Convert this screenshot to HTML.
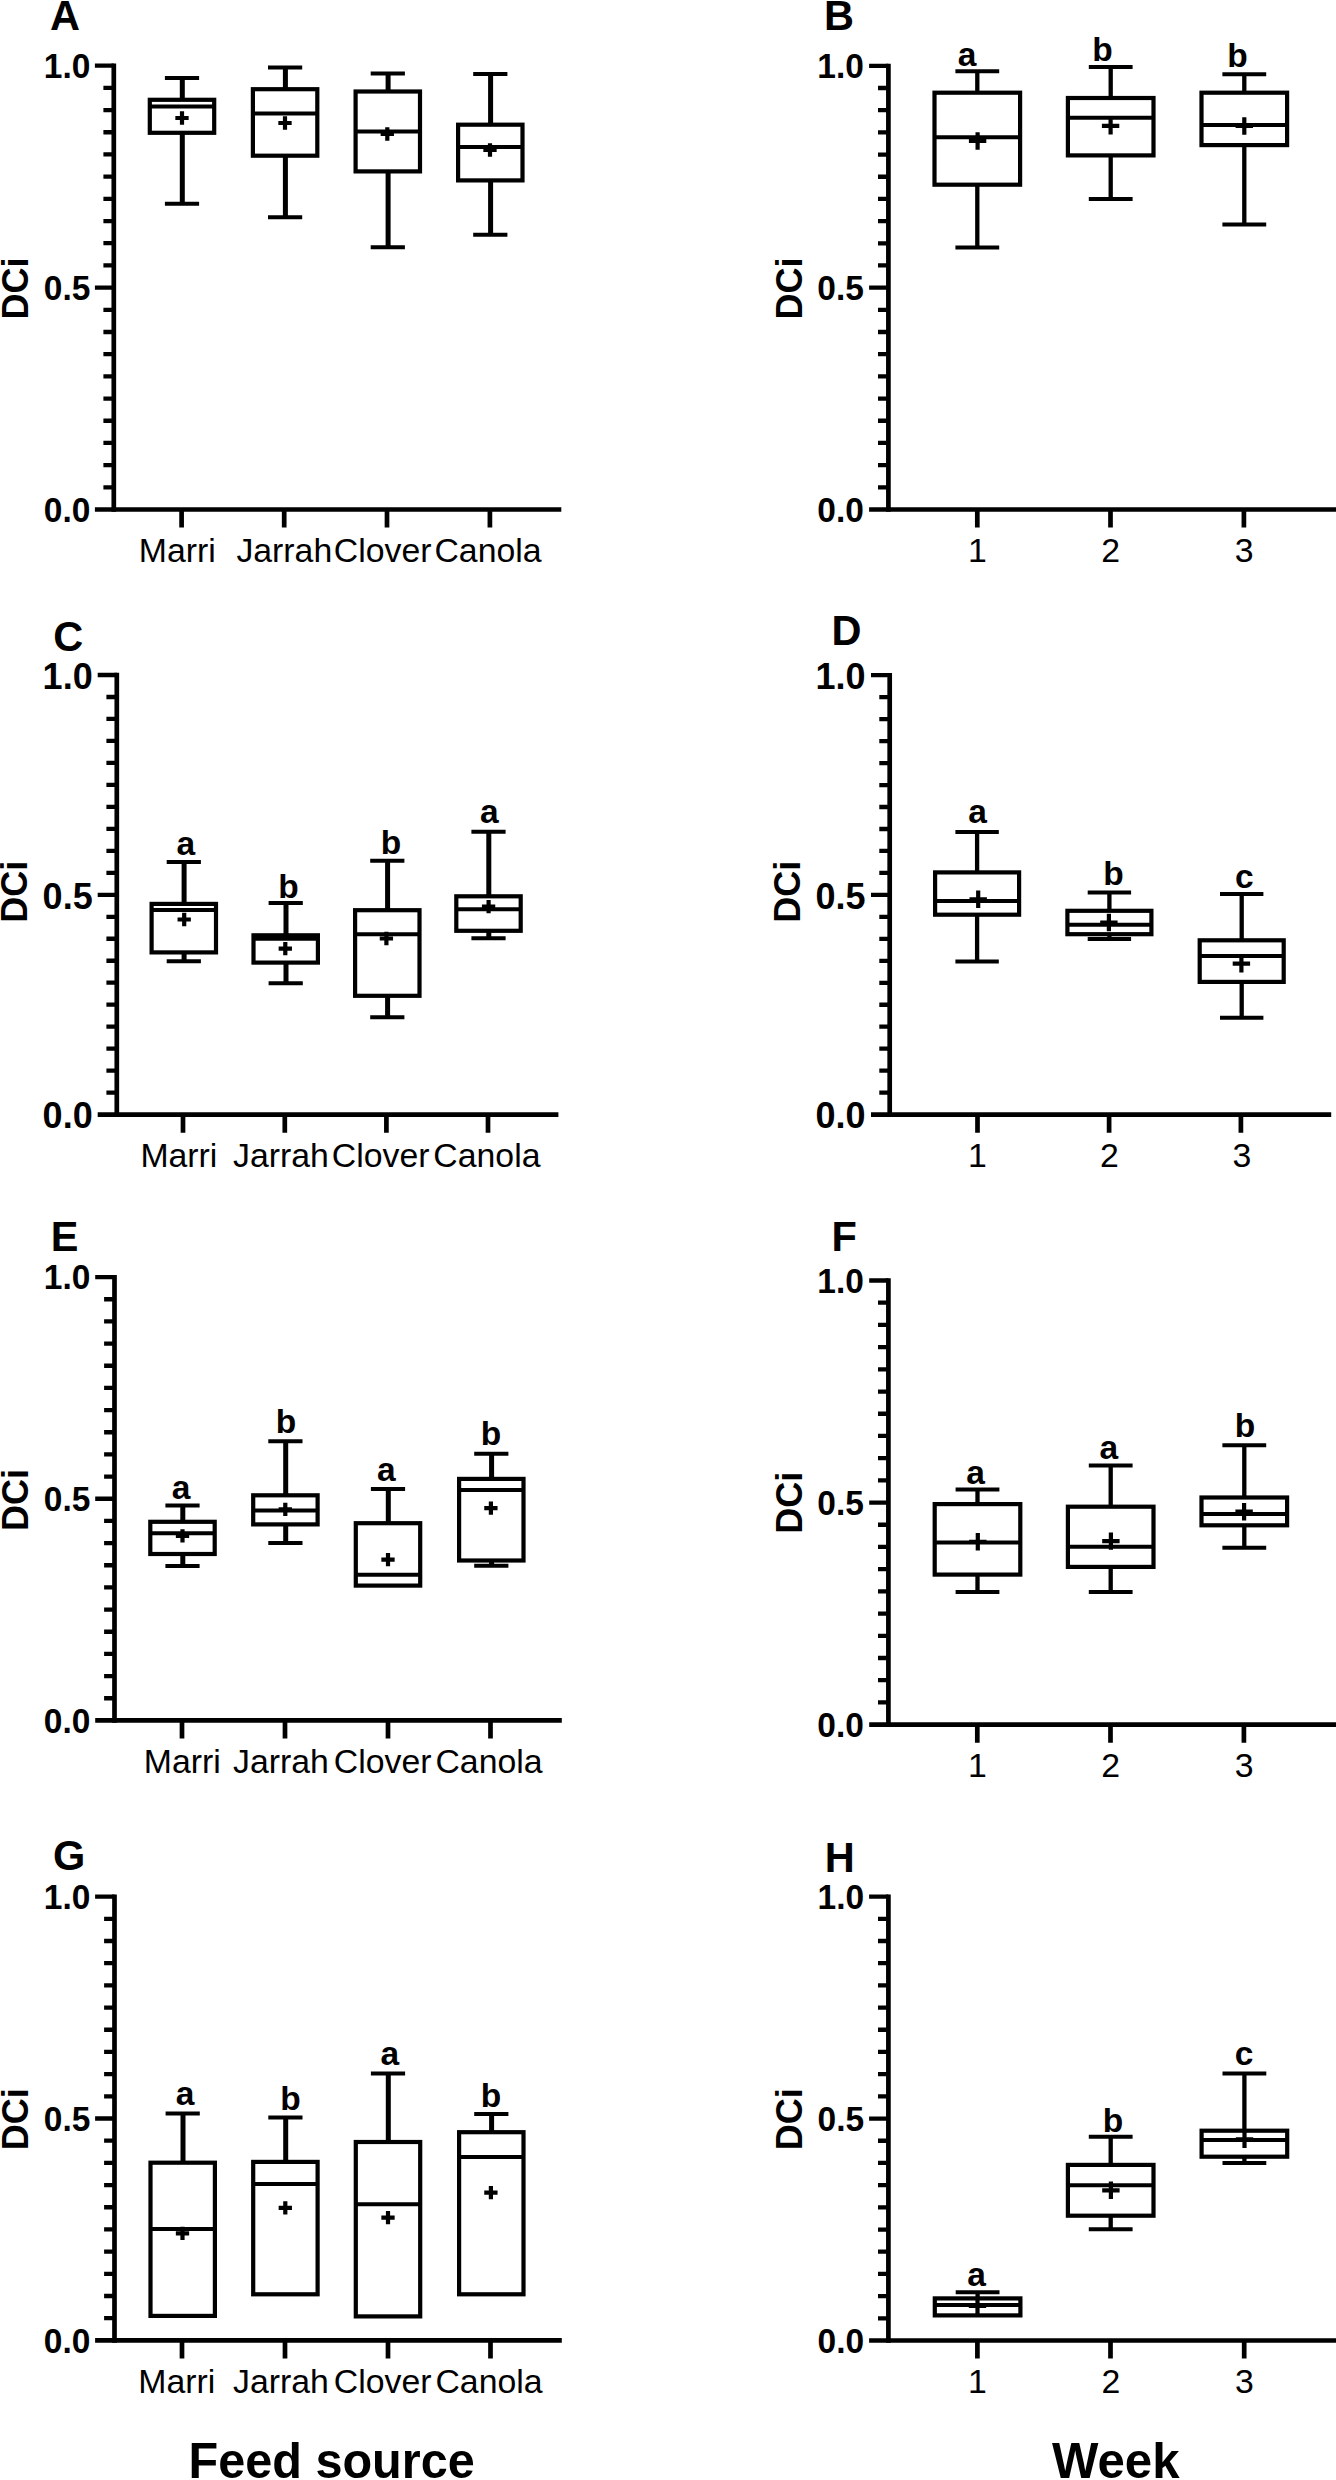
<!DOCTYPE html>
<html lang="en">
<head>
<meta charset="utf-8">
<title>DCi box plots by feed source and week</title>
<style>
html,body{margin:0;padding:0;background:#fff;}
body{width:1336px;height:2480px;overflow:hidden;}
svg{display:block;}
svg text{font-family:"Liberation Sans", sans-serif;fill:#000;stroke:none;}
</style>
</head>
<body>
<svg width="1336" height="2480" viewBox="0 0 1336 2480" fill="none" stroke="#000" stroke-linecap="butt" stroke-linejoin="miter">
<rect x="0" y="0" width="1336" height="2480" fill="#fff" stroke="none"/>
<g id="panel-A">
<text transform="translate(50.1 29.6) scale(1 1.04)" font-size="41.5" font-weight="700">A</text>
<path d="M113.8 63.55V511.85" stroke-width="4.7"/>
<path d="M94.9 509.5H561.3" stroke-width="4.7"/>
<path d="M103.4 487.31H113.8M103.4 465.12H113.8M103.4 442.93H113.8M103.4 420.74H113.8M103.4 398.55H113.8M103.4 376.36H113.8M103.4 354.17H113.8M103.4 331.98H113.8M103.4 309.79H113.8M94.9 287.6H113.8M103.4 265.41H113.8M103.4 243.22H113.8M103.4 221.03H113.8M103.4 198.84H113.8M103.4 176.65H113.8M103.4 154.46H113.8M103.4 132.27H113.8M103.4 110.08H113.8M103.4 87.89H113.8M94.9 65.7H113.8" stroke-width="4.3"/>
<text transform="translate(90.3 521.8) scale(1 1.04)" font-size="33.5" font-weight="700" text-anchor="end">0.0</text>
<text transform="translate(90.3 299.9) scale(1 1.04)" font-size="33.5" font-weight="700" text-anchor="end">0.5</text>
<text transform="translate(90.3 78) scale(1 1.04)" font-size="33.5" font-weight="700" text-anchor="end">1.0</text>
<text transform="translate(27.7 288.4) rotate(-90) scale(1 1.04)" font-size="36" font-weight="700" text-anchor="middle">DCi</text>
<path d="M181.6 509.5V527.6M284.2 509.5V527.6M387 509.5V527.6M489.9 509.5V527.6" stroke-width="4.7"/>
<text transform="translate(177.3 562.3)" font-size="33.8" text-anchor="middle">Marri</text>
<text transform="translate(284.3 562.3)" font-size="33.8" text-anchor="middle">Jarrah</text>
<text transform="translate(382.6 562.3)" font-size="33.8" text-anchor="middle">Clover</text>
<text transform="translate(488 562.3)" font-size="33.8" text-anchor="middle">Canola</text>
<path d="M182.3 78V99.8M182.3 132.8V203.7" stroke-width="5.0"/>
<path d="M164.9 78H199.1M164.9 203.7H199.1" stroke-width="4.0"/>
<rect x="149.8" y="99.8" width="64.4" height="33" fill="#fff" stroke-width="4.2"/>
<path d="M149.8 106.6H214.2" stroke-width="4.0"/>
<path d="M175.35 118H188.65M182 111.35V124.65" stroke-width="4.2"/>
<path d="M285.4 67.4V89.2M285.4 155.7V217.2" stroke-width="5.0"/>
<path d="M268 67.4H302.2M268 217.2H302.2" stroke-width="4.0"/>
<rect x="252.9" y="89.2" width="64.4" height="66.5" fill="#fff" stroke-width="4.2"/>
<path d="M252.9 113.4H317.3" stroke-width="4.0"/>
<path d="M278.35 123H291.65M285 116.35V129.65" stroke-width="4.2"/>
<path d="M388.1 73.4V91.5M388.1 171.4V247.2" stroke-width="5.0"/>
<path d="M370.7 73.4H404.9M370.7 247.2H404.9" stroke-width="4.0"/>
<rect x="355.6" y="91.5" width="64.4" height="79.9" fill="#fff" stroke-width="4.2"/>
<path d="M355.6 131.6H420" stroke-width="4.0"/>
<path d="M380.65 134H393.95M387.3 127.35V140.65" stroke-width="4.2"/>
<path d="M490.6 74.1V124.7M490.6 180.4V234.7" stroke-width="5.0"/>
<path d="M473.2 74.1H507.4M473.2 234.7H507.4" stroke-width="4.0"/>
<rect x="458.1" y="124.7" width="64.4" height="55.7" fill="#fff" stroke-width="4.2"/>
<path d="M458.1 147.1H522.5" stroke-width="4.0"/>
<path d="M483.35 150H496.65M490 143.35V156.65" stroke-width="4.2"/>
</g>
<g id="panel-B">
<text transform="translate(823.9 29.6) scale(1 1.04)" font-size="41.5" font-weight="700">B</text>
<path d="M888.4 63.65V511.85" stroke-width="4.7"/>
<path d="M869.1 509.5H1340" stroke-width="4.7"/>
<path d="M878 487.31H888.4M878 465.13H888.4M878 442.94H888.4M878 420.76H888.4M878 398.57H888.4M878 376.39H888.4M878 354.2H888.4M878 332.02H888.4M878 309.84H888.4M869.1 287.65H888.4M878 265.47H888.4M878 243.28H888.4M878 221.1H888.4M878 198.91H888.4M878 176.73H888.4M878 154.54H888.4M878 132.36H888.4M878 110.17H888.4M878 87.99H888.4M869.1 65.8H888.4" stroke-width="4.3"/>
<text transform="translate(863.8 521.8) scale(1 1.04)" font-size="33.5" font-weight="700" text-anchor="end">0.0</text>
<text transform="translate(863.8 299.95) scale(1 1.04)" font-size="33.5" font-weight="700" text-anchor="end">0.5</text>
<text transform="translate(863.8 78.1) scale(1 1.04)" font-size="33.5" font-weight="700" text-anchor="end">1.0</text>
<text transform="translate(801.7 288.45) rotate(-90) scale(1 1.04)" font-size="36" font-weight="700" text-anchor="middle">DCi</text>
<path d="M977.3 509.5V527.6M1110.5 509.5V527.6M1243.9 509.5V527.6" stroke-width="4.7"/>
<text transform="translate(977.3 561.9)" font-size="33.8" text-anchor="middle">1</text>
<text transform="translate(1110.7 561.9)" font-size="33.8" text-anchor="middle">2</text>
<text transform="translate(1244.1 561.9)" font-size="33.8" text-anchor="middle">3</text>
<path d="M977.3 71.3V92.7M977.3 184.7V247.4" stroke-width="4.3"/>
<path d="M955.4 71.3H999.2M955.4 247.4H999.2" stroke-width="4.0"/>
<rect x="934.5" y="92.7" width="85.6" height="92" fill="#fff" stroke-width="4.2"/>
<path d="M934.5 137.3H1020.1" stroke-width="4.0"/>
<path d="M968.9 141H986.3M977.6 132.3V149.7" stroke-width="4.2"/>
<text transform="translate(967 66)" font-size="33.5" font-weight="700" text-anchor="middle">a</text>
<path d="M1110.7 67.1V98M1110.7 155.4V199" stroke-width="4.3"/>
<path d="M1088.8 67.1H1132.6M1088.8 199H1132.6" stroke-width="4.0"/>
<rect x="1067.9" y="98" width="85.6" height="57.4" fill="#fff" stroke-width="4.2"/>
<path d="M1067.9 117.8H1153.5" stroke-width="4.0"/>
<path d="M1101.9 125.8H1119.3M1110.6 117.1V134.5" stroke-width="4.2"/>
<text transform="translate(1102.6 61)" font-size="33.5" font-weight="700" text-anchor="middle">b</text>
<path d="M1244.3 74.3V92.7M1244.3 145.1V224.5" stroke-width="4.3"/>
<path d="M1222.4 74.3H1266.2M1222.4 224.5H1266.2" stroke-width="4.0"/>
<rect x="1201.5" y="92.7" width="85.6" height="52.4" fill="#fff" stroke-width="4.2"/>
<path d="M1201.5 124.9H1287.1" stroke-width="4.0"/>
<path d="M1235.6 126H1253M1244.3 117.3V134.7" stroke-width="4.2"/>
<text transform="translate(1237.6 66.9)" font-size="33.5" font-weight="700" text-anchor="middle">b</text>
</g>
<g id="panel-C">
<text transform="translate(53.2 650.7) scale(1 1.04)" font-size="41.5" font-weight="700">C</text>
<path d="M116.8 672.85V1116.95" stroke-width="4.7"/>
<path d="M97.7 1114.6H558.4" stroke-width="4.7"/>
<path d="M106.4 1092.62H116.8M106.4 1070.64H116.8M106.4 1048.66H116.8M106.4 1026.68H116.8M106.4 1004.7H116.8M106.4 982.72H116.8M106.4 960.74H116.8M106.4 938.76H116.8M106.4 916.78H116.8M97.7 894.8H116.8M106.4 872.82H116.8M106.4 850.84H116.8M106.4 828.86H116.8M106.4 806.88H116.8M106.4 784.9H116.8M106.4 762.92H116.8M106.4 740.94H116.8M106.4 718.96H116.8M106.4 696.98H116.8M97.7 675H116.8" stroke-width="4.3"/>
<text transform="translate(92.65 1128.42) scale(1 1.04)" font-size="36" font-weight="700" text-anchor="end">0.0</text>
<text transform="translate(92.65 908.62) scale(1 1.04)" font-size="36" font-weight="700" text-anchor="end">0.5</text>
<text transform="translate(92.65 688.82) scale(1 1.04)" font-size="36" font-weight="700" text-anchor="end">1.0</text>
<text transform="translate(27.3 891.8) rotate(-90) scale(1 1.04)" font-size="36" font-weight="700" text-anchor="middle">DCi</text>
<path d="M183 1114.6V1132.7M284.8 1114.6V1132.7M386.4 1114.6V1132.7M488 1114.6V1132.7" stroke-width="4.7"/>
<text transform="translate(178.9 1166.6)" font-size="33.8" text-anchor="middle">Marri</text>
<text transform="translate(281 1166.6)" font-size="33.8" text-anchor="middle">Jarrah</text>
<text transform="translate(380.6 1166.6)" font-size="33.8" text-anchor="middle">Clover</text>
<text transform="translate(486.9 1166.6)" font-size="33.8" text-anchor="middle">Canola</text>
<path d="M184.1 862V903.9M184.1 952.4V961.2" stroke-width="5.0"/>
<path d="M166.7 862H200.9M166.7 961.2H200.9" stroke-width="4.0"/>
<rect x="151.6" y="903.9" width="64.4" height="48.5" fill="#fff" stroke-width="4.2"/>
<path d="M151.6 909.9H216" stroke-width="4.0"/>
<path d="M177.55 919.5H190.85M184.2 912.85V926.15" stroke-width="4.2"/>
<text transform="translate(185.8 854.8)" font-size="33.5" font-weight="700" text-anchor="middle">a</text>
<path d="M286 903.1V935.3M286 962.6V983.2" stroke-width="5.0"/>
<path d="M268.6 903.1H302.8M268.6 983.2H302.8" stroke-width="4.0"/>
<rect x="253.5" y="935.3" width="64.4" height="27.3" fill="#fff" stroke-width="4.2"/>
<path d="M253.5 938.7H317.9" stroke-width="4.0"/>
<path d="M278.65 948.6H291.95M285.3 941.95V955.25" stroke-width="4.2"/>
<text transform="translate(288.6 898.2)" font-size="33.5" font-weight="700" text-anchor="middle">b</text>
<path d="M387.6 860.8V910.2M387.6 995.8V1017.2" stroke-width="5.0"/>
<path d="M370.2 860.8H404.4M370.2 1017.2H404.4" stroke-width="4.0"/>
<rect x="355.1" y="910.2" width="64.4" height="85.6" fill="#fff" stroke-width="4.2"/>
<path d="M355.1 934.3H419.5" stroke-width="4.0"/>
<path d="M379.75 938.5H393.05M386.4 931.85V945.15" stroke-width="4.2"/>
<text transform="translate(391 854.2)" font-size="33.5" font-weight="700" text-anchor="middle">b</text>
<path d="M488.8 831.7V896.3M488.8 930.8V938.3" stroke-width="5.0"/>
<path d="M471.4 831.7H505.6M471.4 938.3H505.6" stroke-width="4.0"/>
<rect x="456.3" y="896.3" width="64.4" height="34.5" fill="#fff" stroke-width="4.2"/>
<path d="M456.3 909.3H520.7" stroke-width="4.0"/>
<path d="M481.95 906.7H495.25M488.6 900.05V913.35" stroke-width="4.2"/>
<text transform="translate(489.4 822.8)" font-size="33.5" font-weight="700" text-anchor="middle">a</text>
</g>
<g id="panel-D">
<text transform="translate(831.6 645.3) scale(1 1.04)" font-size="41.5" font-weight="700">D</text>
<path d="M889.7 673.05V1116.95" stroke-width="4.7"/>
<path d="M871 1114.6H1331.2" stroke-width="4.7"/>
<path d="M879.3 1092.63H889.7M879.3 1070.66H889.7M879.3 1048.69H889.7M879.3 1026.72H889.7M879.3 1004.75H889.7M879.3 982.78H889.7M879.3 960.81H889.7M879.3 938.84H889.7M879.3 916.87H889.7M871 894.9H889.7M879.3 872.93H889.7M879.3 850.96H889.7M879.3 828.99H889.7M879.3 807.02H889.7M879.3 785.05H889.7M879.3 763.08H889.7M879.3 741.11H889.7M879.3 719.14H889.7M879.3 697.17H889.7M871 675.2H889.7" stroke-width="4.3"/>
<text transform="translate(865.45 1128.42) scale(1 1.04)" font-size="36" font-weight="700" text-anchor="end">0.0</text>
<text transform="translate(865.45 908.72) scale(1 1.04)" font-size="36" font-weight="700" text-anchor="end">0.5</text>
<text transform="translate(865.45 689.02) scale(1 1.04)" font-size="36" font-weight="700" text-anchor="end">1.0</text>
<text transform="translate(800.3 891.8) rotate(-90) scale(1 1.04)" font-size="36" font-weight="700" text-anchor="middle">DCi</text>
<path d="M977.5 1114.6V1132.7M1109.1 1114.6V1132.7M1240.9 1114.6V1132.7" stroke-width="4.7"/>
<text transform="translate(977.5 1166.9)" font-size="33.8" text-anchor="middle">1</text>
<text transform="translate(1109.4 1166.9)" font-size="33.8" text-anchor="middle">2</text>
<text transform="translate(1241.8 1166.9)" font-size="33.8" text-anchor="middle">3</text>
<path d="M977.1 832.1V872.4M977.1 914.7V961.4" stroke-width="4.3"/>
<path d="M955.4 832.1H998.8M955.4 961.4H998.8" stroke-width="4.0"/>
<rect x="935.1" y="872.4" width="84" height="42.3" fill="#fff" stroke-width="4.2"/>
<path d="M935.1 901.1H1019.1" stroke-width="4.0"/>
<path d="M969.5 899.3H986.9M978.2 890.6V908" stroke-width="4.2"/>
<text transform="translate(977.6 823.1)" font-size="33.5" font-weight="700" text-anchor="middle">a</text>
<path d="M1109.4 892.6V910.8M1109.4 934.2V939" stroke-width="4.3"/>
<path d="M1087.7 892.6H1131.1M1087.7 939H1131.1" stroke-width="4.0"/>
<rect x="1067.4" y="910.8" width="84" height="23.4" fill="#fff" stroke-width="4.2"/>
<path d="M1067.4 924.8H1151.4" stroke-width="4.0"/>
<path d="M1100.2 922.5H1117.6M1108.9 913.8V931.2" stroke-width="4.2"/>
<text transform="translate(1113.6 884.7)" font-size="33.5" font-weight="700" text-anchor="middle">b</text>
<path d="M1241.7 893.9V940.3M1241.7 981.9V1017.7" stroke-width="4.3"/>
<path d="M1220 893.9H1263.4M1220 1017.7H1263.4" stroke-width="4.0"/>
<rect x="1199.7" y="940.3" width="84" height="41.6" fill="#fff" stroke-width="4.2"/>
<path d="M1199.7 956H1283.7" stroke-width="4.0"/>
<path d="M1232.7 963.7H1250.1M1241.4 955V972.4" stroke-width="4.2"/>
<text transform="translate(1244.4 887.7)" font-size="33.5" font-weight="700" text-anchor="middle">c</text>
</g>
<g id="panel-E">
<text transform="translate(50.7 1250.9) scale(1 1.04)" font-size="41.5" font-weight="700">E</text>
<path d="M114.5 1274.95V1722.75" stroke-width="4.7"/>
<path d="M95.2 1720.4H561.8" stroke-width="4.7"/>
<path d="M104.1 1698.24H114.5M104.1 1676.07H114.5M104.1 1653.9H114.5M104.1 1631.74H114.5M104.1 1609.58H114.5M104.1 1587.41H114.5M104.1 1565.25H114.5M104.1 1543.08H114.5M104.1 1520.91H114.5M95.2 1498.75H114.5M104.1 1476.59H114.5M104.1 1454.42H114.5M104.1 1432.26H114.5M104.1 1410.09H114.5M104.1 1387.92H114.5M104.1 1365.76H114.5M104.1 1343.59H114.5M104.1 1321.43H114.5M104.1 1299.26H114.5M95.2 1277.1H114.5" stroke-width="4.3"/>
<text transform="translate(90.4 1732.7) scale(1 1.04)" font-size="33.5" font-weight="700" text-anchor="end">0.0</text>
<text transform="translate(90.4 1511.05) scale(1 1.04)" font-size="33.5" font-weight="700" text-anchor="end">0.5</text>
<text transform="translate(90.4 1289.4) scale(1 1.04)" font-size="33.5" font-weight="700" text-anchor="end">1.0</text>
<text transform="translate(27.7 1500.05) rotate(-90) scale(1 1.04)" font-size="36" font-weight="700" text-anchor="middle">DCi</text>
<path d="M182 1720.4V1738.5M285 1720.4V1738.5M388 1720.4V1738.5M490.5 1720.4V1738.5" stroke-width="4.7"/>
<text transform="translate(182.3 1773)" font-size="33.8" text-anchor="middle">Marri</text>
<text transform="translate(281 1773)" font-size="33.8" text-anchor="middle">Jarrah</text>
<text transform="translate(382.6 1773)" font-size="33.8" text-anchor="middle">Clover</text>
<text transform="translate(489 1773)" font-size="33.8" text-anchor="middle">Canola</text>
<path d="M182.8 1505.4V1521.8M182.8 1554V1566" stroke-width="5.0"/>
<path d="M165.4 1505.4H199.6M165.4 1566H199.6" stroke-width="4.0"/>
<rect x="150.3" y="1521.8" width="64.4" height="32.2" fill="#fff" stroke-width="4.2"/>
<path d="M150.3 1533.2H214.7" stroke-width="4.0"/>
<path d="M175.85 1535.9H189.15M182.5 1529.25V1542.55" stroke-width="4.2"/>
<text transform="translate(181 1498.5)" font-size="33.5" font-weight="700" text-anchor="middle">a</text>
<path d="M285.7 1441.2V1495.3M285.7 1524.4V1543.1" stroke-width="5.0"/>
<path d="M268.3 1441.2H302.5M268.3 1543.1H302.5" stroke-width="4.0"/>
<rect x="253.2" y="1495.3" width="64.4" height="29.1" fill="#fff" stroke-width="4.2"/>
<path d="M253.2 1510.5H317.6" stroke-width="4.0"/>
<path d="M278.65 1509.4H291.95M285.3 1502.75V1516.05" stroke-width="4.2"/>
<text transform="translate(286 1432.6)" font-size="33.5" font-weight="700" text-anchor="middle">b</text>
<path d="M388.3 1489.1V1523.2" stroke-width="5.0"/>
<path d="M370.9 1489.1H405.1" stroke-width="4.0"/>
<rect x="355.8" y="1523.2" width="64.4" height="62.4" fill="#fff" stroke-width="4.2"/>
<path d="M355.8 1574.8H420.2" stroke-width="4.0"/>
<path d="M381.35 1559.6H394.65M388 1552.95V1566.25" stroke-width="4.2"/>
<text transform="translate(386.2 1481.2)" font-size="33.5" font-weight="700" text-anchor="middle">a</text>
<path d="M491.6 1453.7V1478.9M491.6 1560.5V1565.7" stroke-width="5.0"/>
<path d="M474.2 1453.7H508.4M474.2 1565.7H508.4" stroke-width="4.0"/>
<rect x="459.1" y="1478.9" width="64.4" height="81.6" fill="#fff" stroke-width="4.2"/>
<path d="M459.1 1490H523.5" stroke-width="4.0"/>
<path d="M484.25 1508.2H497.55M490.9 1501.55V1514.85" stroke-width="4.2"/>
<text transform="translate(490.9 1445.1)" font-size="33.5" font-weight="700" text-anchor="middle">b</text>
</g>
<g id="panel-F">
<text transform="translate(831.6 1250.9) scale(1 1.04)" font-size="41.5" font-weight="700">F</text>
<path d="M888.4 1278.35V1726.95" stroke-width="4.7"/>
<path d="M869.2 1724.6H1340" stroke-width="4.7"/>
<path d="M878 1702.39H888.4M878 1680.19H888.4M878 1657.98H888.4M878 1635.78H888.4M878 1613.57H888.4M878 1591.37H888.4M878 1569.16H888.4M878 1546.96H888.4M878 1524.75H888.4M869.2 1502.55H888.4M878 1480.35H888.4M878 1458.14H888.4M878 1435.93H888.4M878 1413.73H888.4M878 1391.53H888.4M878 1369.32H888.4M878 1347.12H888.4M878 1324.91H888.4M878 1302.7H888.4M869.2 1280.5H888.4" stroke-width="4.3"/>
<text transform="translate(863.9 1736.9) scale(1 1.04)" font-size="33.5" font-weight="700" text-anchor="end">0.0</text>
<text transform="translate(863.9 1514.85) scale(1 1.04)" font-size="33.5" font-weight="700" text-anchor="end">0.5</text>
<text transform="translate(863.9 1292.8) scale(1 1.04)" font-size="33.5" font-weight="700" text-anchor="end">1.0</text>
<text transform="translate(801.7 1502.65) rotate(-90) scale(1 1.04)" font-size="36" font-weight="700" text-anchor="middle">DCi</text>
<path d="M977.3 1724.6V1742.7M1110.5 1724.6V1742.7M1243.9 1724.6V1742.7" stroke-width="4.7"/>
<text transform="translate(977.3 1777)" font-size="33.8" text-anchor="middle">1</text>
<text transform="translate(1110.7 1777)" font-size="33.8" text-anchor="middle">2</text>
<text transform="translate(1244.1 1777)" font-size="33.8" text-anchor="middle">3</text>
<path d="M977.5 1489.4V1504.1M977.5 1574.6V1592" stroke-width="4.3"/>
<path d="M955.6 1489.4H999.4M955.6 1592H999.4" stroke-width="4.0"/>
<rect x="934.7" y="1504.1" width="85.6" height="70.5" fill="#fff" stroke-width="4.2"/>
<path d="M934.7 1542.6H1020.3" stroke-width="4.0"/>
<path d="M969.1 1541.8H986.5M977.8 1533.1V1550.5" stroke-width="4.2"/>
<text transform="translate(975.5 1483.8)" font-size="33.5" font-weight="700" text-anchor="middle">a</text>
<path d="M1110.7 1465.6V1506.7M1110.7 1566.9V1592" stroke-width="4.3"/>
<path d="M1088.8 1465.6H1132.6M1088.8 1592H1132.6" stroke-width="4.0"/>
<rect x="1067.9" y="1506.7" width="85.6" height="60.2" fill="#fff" stroke-width="4.2"/>
<path d="M1067.9 1546.8H1153.5" stroke-width="4.0"/>
<path d="M1102.2 1541.1H1119.6M1110.9 1532.4V1549.8" stroke-width="4.2"/>
<text transform="translate(1108.9 1458.8)" font-size="33.5" font-weight="700" text-anchor="middle">a</text>
<path d="M1244.3 1445.3V1497.5M1244.3 1525.3V1547.7" stroke-width="4.3"/>
<path d="M1222.4 1445.3H1266.2M1222.4 1547.7H1266.2" stroke-width="4.0"/>
<rect x="1201.5" y="1497.5" width="85.6" height="27.8" fill="#fff" stroke-width="4.2"/>
<path d="M1201.5 1514.1H1287.1" stroke-width="4.0"/>
<path d="M1235.4 1511.7H1252.8M1244.1 1503V1520.4" stroke-width="4.2"/>
<text transform="translate(1245 1436.9)" font-size="33.5" font-weight="700" text-anchor="middle">b</text>
</g>
<g id="panel-G">
<text transform="translate(52.9 1869.8) scale(1 1.04)" font-size="41.5" font-weight="700">G</text>
<path d="M114.5 1894.45V2342.75" stroke-width="4.7"/>
<path d="M95.1 2340.4H561.8" stroke-width="4.7"/>
<path d="M104.1 2318.21H114.5M104.1 2296.02H114.5M104.1 2273.83H114.5M104.1 2251.64H114.5M104.1 2229.45H114.5M104.1 2207.26H114.5M104.1 2185.07H114.5M104.1 2162.88H114.5M104.1 2140.69H114.5M95.1 2118.5H114.5M104.1 2096.31H114.5M104.1 2074.12H114.5M104.1 2051.93H114.5M104.1 2029.74H114.5M104.1 2007.55H114.5M104.1 1985.36H114.5M104.1 1963.17H114.5M104.1 1940.98H114.5M104.1 1918.79H114.5M95.1 1896.6H114.5" stroke-width="4.3"/>
<text transform="translate(90.4 2352.7) scale(1 1.04)" font-size="33.5" font-weight="700" text-anchor="end">0.0</text>
<text transform="translate(90.4 2130.8) scale(1 1.04)" font-size="33.5" font-weight="700" text-anchor="end">0.5</text>
<text transform="translate(90.4 1908.9) scale(1 1.04)" font-size="33.5" font-weight="700" text-anchor="end">1.0</text>
<text transform="translate(27.7 2119.3) rotate(-90) scale(1 1.04)" font-size="36" font-weight="700" text-anchor="middle">DCi</text>
<path d="M182 2340.4V2358.5M285 2340.4V2358.5M388 2340.4V2358.5M490.5 2340.4V2358.5" stroke-width="4.7"/>
<text transform="translate(176.8 2392.8)" font-size="33.8" text-anchor="middle">Marri</text>
<text transform="translate(281 2392.8)" font-size="33.8" text-anchor="middle">Jarrah</text>
<text transform="translate(382.6 2392.8)" font-size="33.8" text-anchor="middle">Clover</text>
<text transform="translate(489 2392.8)" font-size="33.8" text-anchor="middle">Canola</text>
<path d="M183 2113.5V2162.7" stroke-width="5.0"/>
<path d="M165.6 2113.5H199.8" stroke-width="4.0"/>
<rect x="150.5" y="2162.7" width="64.4" height="153.2" fill="#fff" stroke-width="4.2"/>
<path d="M150.5 2228.9H214.9" stroke-width="4.0"/>
<path d="M175.85 2233.4H189.15M182.5 2226.75V2240.05" stroke-width="4.2"/>
<text transform="translate(185 2104.5)" font-size="33.5" font-weight="700" text-anchor="middle">a</text>
<path d="M285.7 2117.4V2161.9" stroke-width="5.0"/>
<path d="M268.3 2117.4H302.5" stroke-width="4.0"/>
<rect x="253.2" y="2161.9" width="64.4" height="132.4" fill="#fff" stroke-width="4.2"/>
<path d="M253.2 2184H317.6" stroke-width="4.0"/>
<path d="M278.65 2207.8H291.95M285.3 2201.15V2214.45" stroke-width="4.2"/>
<text transform="translate(290.6 2109.5)" font-size="33.5" font-weight="700" text-anchor="middle">b</text>
<path d="M388.3 2073.5V2142" stroke-width="5.0"/>
<path d="M370.9 2073.5H405.1" stroke-width="4.0"/>
<rect x="355.8" y="2142" width="64.4" height="174.4" fill="#fff" stroke-width="4.2"/>
<path d="M355.8 2204.2H420.2" stroke-width="4.0"/>
<path d="M381.35 2217.7H394.65M388 2211.05V2224.35" stroke-width="4.2"/>
<text transform="translate(389.8 2064.7)" font-size="33.5" font-weight="700" text-anchor="middle">a</text>
<path d="M491.6 2114.1V2132.2" stroke-width="5.0"/>
<path d="M474.2 2114.1H508.4" stroke-width="4.0"/>
<rect x="459.1" y="2132.2" width="64.4" height="162.1" fill="#fff" stroke-width="4.2"/>
<path d="M459.1 2157H523.5" stroke-width="4.0"/>
<path d="M484.25 2192.6H497.55M490.9 2185.95V2199.25" stroke-width="4.2"/>
<text transform="translate(490.9 2107.2)" font-size="33.5" font-weight="700" text-anchor="middle">b</text>
</g>
<g id="panel-H">
<text transform="translate(824.8 1872.1) scale(1 1.04)" font-size="41.5" font-weight="700">H</text>
<path d="M888.4 1894.45V2342.85" stroke-width="4.7"/>
<path d="M869.1 2340.5H1340" stroke-width="4.7"/>
<path d="M878 2318.3H888.4M878 2296.11H888.4M878 2273.91H888.4M878 2251.72H888.4M878 2229.53H888.4M878 2207.33H888.4M878 2185.13H888.4M878 2162.94H888.4M878 2140.74H888.4M869.1 2118.55H888.4M878 2096.36H888.4M878 2074.16H888.4M878 2051.97H888.4M878 2029.77H888.4M878 2007.57H888.4M878 1985.38H888.4M878 1963.18H888.4M878 1940.99H888.4M878 1918.79H888.4M869.1 1896.6H888.4" stroke-width="4.3"/>
<text transform="translate(864.1 2352.8) scale(1 1.04)" font-size="33.5" font-weight="700" text-anchor="end">0.0</text>
<text transform="translate(864.1 2130.85) scale(1 1.04)" font-size="33.5" font-weight="700" text-anchor="end">0.5</text>
<text transform="translate(864.1 1908.9) scale(1 1.04)" font-size="33.5" font-weight="700" text-anchor="end">1.0</text>
<text transform="translate(801.7 2119.35) rotate(-90) scale(1 1.04)" font-size="36" font-weight="700" text-anchor="middle">DCi</text>
<path d="M977.4 2340.5V2358.6M1110.5 2340.5V2358.6M1244.2 2340.5V2358.6" stroke-width="4.7"/>
<text transform="translate(977.3 2393.1)" font-size="33.8" text-anchor="middle">1</text>
<text transform="translate(1110.9 2393.1)" font-size="33.8" text-anchor="middle">2</text>
<text transform="translate(1244.3 2393.1)" font-size="33.8" text-anchor="middle">3</text>
<path d="M977.6 2292.2V2298.4" stroke-width="4.3"/>
<path d="M955.7 2292.2H999.5" stroke-width="4.0"/>
<rect x="934.8" y="2298.4" width="85.6" height="17" fill="#fff" stroke-width="4.2"/>
<path d="M934.8 2305.1H1020.4" stroke-width="4.0"/>
<path d="M968.8 2306H986.2M977.5 2297.3V2314.7" stroke-width="4.2"/>
<text transform="translate(976.6 2285.5)" font-size="33.5" font-weight="700" text-anchor="middle">a</text>
<path d="M1110.7 2136.7V2164.9M1110.7 2215.7V2229.3" stroke-width="4.3"/>
<path d="M1088.8 2136.7H1132.6M1088.8 2229.3H1132.6" stroke-width="4.0"/>
<rect x="1067.9" y="2164.9" width="85.6" height="50.8" fill="#fff" stroke-width="4.2"/>
<path d="M1067.9 2185.3H1153.5" stroke-width="4.0"/>
<path d="M1102.2 2190.3H1119.6M1110.9 2181.6V2199" stroke-width="4.2"/>
<text transform="translate(1113 2131.5)" font-size="33.5" font-weight="700" text-anchor="middle">b</text>
<path d="M1244.4 2073.5V2130.7M1244.4 2156.7V2163.1" stroke-width="4.3"/>
<path d="M1222.5 2073.5H1266.3M1222.5 2163.1H1266.3" stroke-width="4.0"/>
<rect x="1201.6" y="2130.7" width="85.6" height="26" fill="#fff" stroke-width="4.2"/>
<path d="M1201.6 2140.1H1287.2" stroke-width="4.0"/>
<path d="M1235.8 2139.4H1253.2M1244.5 2130.7V2148.1" stroke-width="4.2"/>
<text transform="translate(1244.1 2065.1)" font-size="33.5" font-weight="700" text-anchor="middle">c</text>
</g>
<text transform="translate(331.6 2478) scale(1 1.02)" font-size="48.6" font-weight="700" text-anchor="middle">Feed source</text>
<text transform="translate(1115.7 2478.4)" font-size="49.2" font-weight="700" text-anchor="middle">Week</text>
</svg>
</body>
</html>
